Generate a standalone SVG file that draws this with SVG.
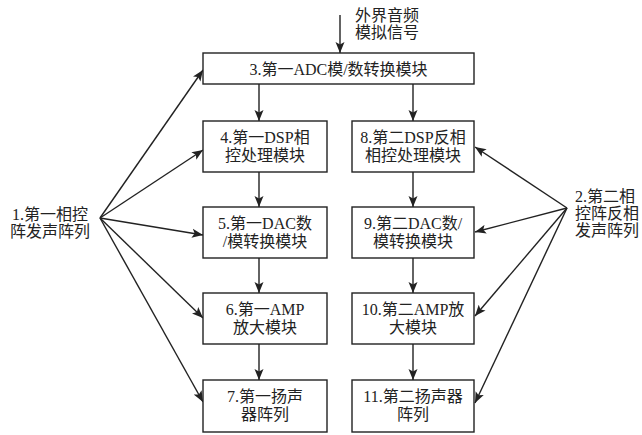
<svg xmlns="http://www.w3.org/2000/svg" width="642" height="435" viewBox="0 0 642 435">
<style>
.box{fill:#fff;stroke:#222;stroke-width:1.4}
text{font-family:"Liberation Serif","Noto Sans CJK SC",serif;font-size:16px;fill:#222}
.c{text-anchor:middle}
.ln{stroke:#222;stroke-width:1.4;fill:none;marker-end:url(#ah)}
</style>
<defs>
<marker id="ah" markerWidth="12" markerHeight="10" refX="11" refY="5" orient="auto" markerUnits="userSpaceOnUse">
<path d="M0,0.5 L11,5 L0,9.5 L2.5,5 z" fill="#222"/>
</marker>
</defs>
<rect width="642" height="435" fill="#fff"/>
<g id="connectors">
<line class="ln" x1="340" y1="15" x2="340" y2="53"/>
<line class="ln" x1="259" y1="84" x2="259" y2="121"/>
<line class="ln" x1="259" y1="172" x2="259" y2="207"/>
<line class="ln" x1="259" y1="258" x2="259" y2="293"/>
<line class="ln" x1="259" y1="344" x2="259" y2="380"/>
<line class="ln" x1="413" y1="84" x2="413" y2="121"/>
<line class="ln" x1="413" y1="172" x2="413" y2="207"/>
<line class="ln" x1="413" y1="258" x2="413" y2="293"/>
<line class="ln" x1="413" y1="344" x2="413" y2="380"/>
<line class="ln" x1="100" y1="218" x2="203" y2="70"/>
<line class="ln" x1="100" y1="218" x2="203" y2="150"/>
<line class="ln" x1="100" y1="218" x2="203" y2="235"/>
<line class="ln" x1="100" y1="218" x2="203" y2="318"/>
<line class="ln" x1="100" y1="218" x2="203" y2="402"/>
<line class="ln" x1="567" y1="208" x2="475" y2="147"/>
<line class="ln" x1="567" y1="208" x2="475" y2="232"/>
<line class="ln" x1="567" y1="208" x2="475" y2="316"/>
<line class="ln" x1="567" y1="208" x2="475" y2="403"/>
</g>
<g id="input-label">
<text x="355" y="21">外界音频</text>
<text x="355" y="38">模拟信号</text>
</g>
<g id="node1">
<text x="12" y="220">1.第一相控</text>
<text x="10" y="237">阵发声阵列</text>
</g>
<g id="node2">
<text x="575" y="202">2.第二相</text>
<text x="575" y="219">控阵反相</text>
<text x="575" y="236">发声阵列</text>
</g>
<g id="node3">
<rect class="box" x="203" y="53" width="271" height="31"/>
<text class="c" x="338.5" y="75">3.第一ADC模/数转换模块</text>
</g>
<g id="node4">
<rect class="box" x="203" y="121" width="124" height="51"/>
<text class="c" x="265" y="143">4.第一DSP相</text>
<text class="c" x="265" y="161">控处理模块</text>
</g>
<g id="node5">
<rect class="box" x="203" y="207" width="124" height="51"/>
<text class="c" x="265" y="229">5.第一DAC数</text>
<text class="c" x="265" y="247">/模转换模块</text>
</g>
<g id="node6">
<rect class="box" x="203" y="293" width="124" height="51"/>
<text class="c" x="265" y="315">6.第一AMP</text>
<text class="c" x="265" y="333">放大模块</text>
</g>
<g id="node7">
<rect class="box" x="203" y="380" width="124" height="52"/>
<text class="c" x="265" y="402">7.第一扬声</text>
<text class="c" x="265" y="420">器阵列</text>
</g>
<g id="node8">
<rect class="box" x="352" y="121" width="122" height="51"/>
<text class="c" x="413" y="143">8.第二DSP反相</text>
<text class="c" x="413" y="161">相控处理模块</text>
</g>
<g id="node9">
<rect class="box" x="352" y="207" width="122" height="51"/>
<text class="c" x="413" y="229">9.第二DAC数/</text>
<text class="c" x="413" y="247">模转换模块</text>
</g>
<g id="node10">
<rect class="box" x="352" y="293" width="122" height="51"/>
<text class="c" x="413" y="315">10.第二AMP放</text>
<text class="c" x="413" y="333">大模块</text>
</g>
<g id="node11">
<rect class="box" x="352" y="380" width="122" height="52"/>
<text class="c" x="413" y="402">11.第二扬声器</text>
<text class="c" x="413" y="420">阵列</text>
</g>
</svg>
